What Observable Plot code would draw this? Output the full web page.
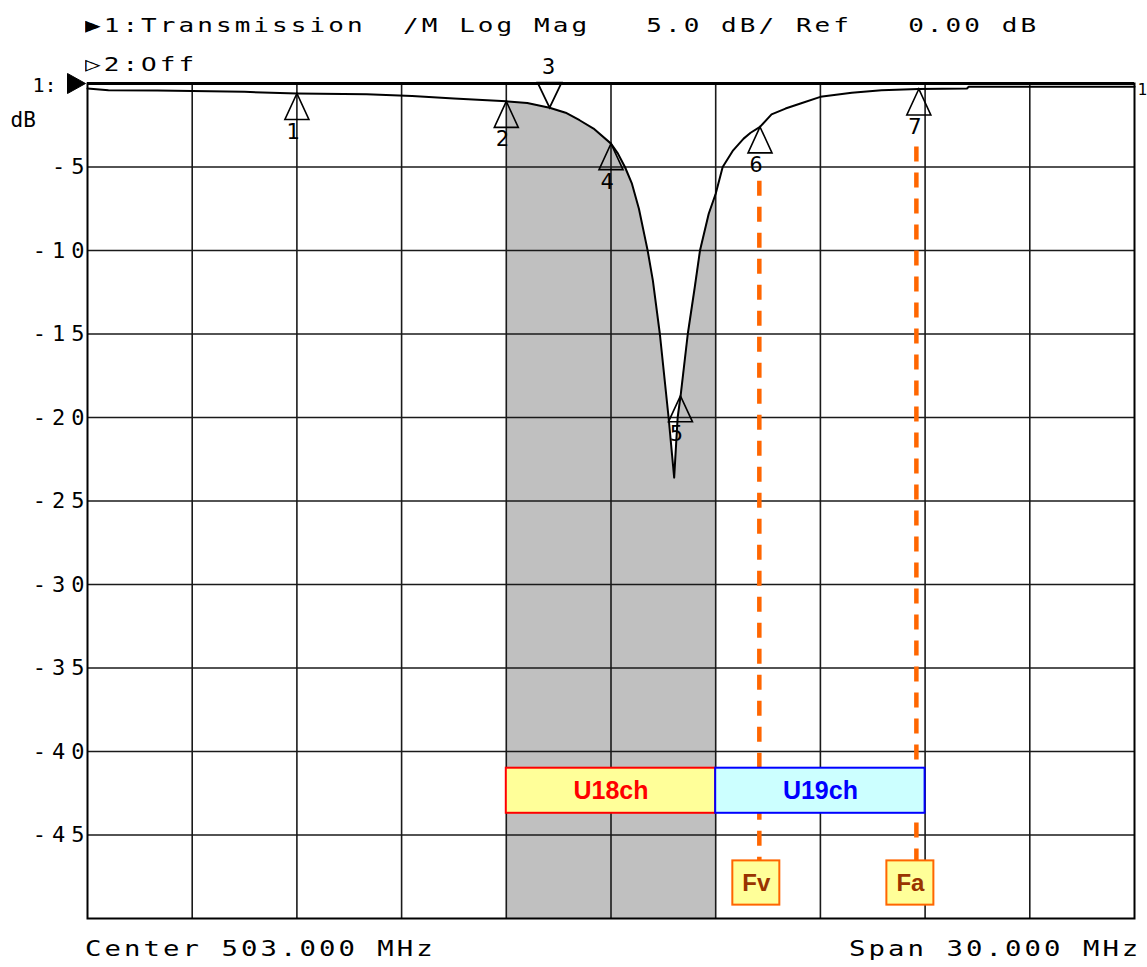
<!DOCTYPE html>
<html>
<head>
<meta charset="utf-8">
<script src="https://cdn.jsdelivr.net/npm/d3@7"></script>
<script src="https://cdn.jsdelivr.net/npm/@observablehq/plot@0.6"></script>
<style>
  body { margin: 0; background: #fff; }
  #wrap { position: relative; width: 1147px; height: 967px; overflow: hidden; background: #fff; }
  .hp { position: absolute; font-family: "DejaVu Sans Mono", monospace; white-space: pre; color: #000; transform-origin: 0 0; }
  .hdr { font-size: 20px; line-height: 20px; letter-spacing: 2.35px; transform: scaleX(1.3); }
  .ftr { font-size: 21px; line-height: 21px; letter-spacing: 2.35px; transform: scaleX(1.3); }
  .vna g[aria-label="y-axis tick label"] text { letter-spacing: 6px; }
</style>
</head>
<body>
<div id="wrap">
  <div id="chart"></div>
  <div class="hp hdr" style="left:85px; top:15px;">▶1:Transmission  /M Log Mag   5.0 dB/ Ref   0.00 dB</div>
  <div class="hp hdr" style="left:85px; top:54px;">▷2:Off</div>
  <div class="hp ftr" style="left:85px; top:939px;">Center 503.000 MHz</div>
  <div class="hp ftr" style="left:849px; top:939px;">Span 30.000 MHz</div>
</div>
<script>
// ---- Data ----
const xDomainMHz = [488, 518];          // Center 503 MHz, span 30 MHz
const yDomainDb = [-50, 0];             // Ref 0 dB, 5 dB/div
const xGridMHz = [491, 494, 497, 500, 503, 506, 509, 512, 515];
const yGridDb = [-5, -10, -15, -20, -25, -30, -35, -40, -45];
const yTickLabels = [-5, -10, -15, -20, -25, -30, -35, -40, -45];
const refLevelDb = 0;

// Transmission trace (frequency MHz, dB)
const freqMHz = [488.0, 488.6, 490.0, 492.5, 494.0, 496.0, 497.3, 498.5, 500.0, 500.6,
  501.24, 501.7, 502.1, 502.5, 503.0, 503.2, 503.4, 503.6, 503.8, 504.0,
  504.05, 504.2, 504.4, 504.55, 504.65, 504.81, 504.91, 505.0, 505.2, 505.4,
  505.55, 505.8, 506.0, 506.2, 506.5, 506.8, 507.0, 507.27, 507.6, 508.0,
  508.43, 509.0, 509.9, 510.75, 511.8, 513.2, 513.25, 518.0];
const transmissionDb = [-0.30, -0.40, -0.42, -0.50, -0.60, -0.65, -0.75, -0.90, -1.07, -1.17,
  -1.45, -1.75, -2.2, -2.7, -3.6, -4.2, -5.0, -6.0, -7.5, -9.5,
  -10.0, -11.8, -15.0, -18.0, -20.0, -23.6, -20.0, -18.6, -15.0, -12.2,
  -10.0, -7.8, -6.6, -5.0, -4.0, -3.3, -2.95, -2.6, -1.85, -1.5,
  -1.2, -0.8, -0.55, -0.4, -0.33, -0.3, -0.2, -0.2];

// Markers
const markerIds = ["1", "2", "3", "4", "5", "6", "7"];
const markerFreqMHz = [494.0, 500.0, 501.24, 503.0, 504.99, 507.27, 511.82];
const markerDb = [-0.6, -1.07, -1.45, -3.6, -18.7, -2.6, -0.33];
const markerPointsDown = [false, false, true, false, false, false, false];

// Shaded band (U18ch)
const shadeStartMHz = 500;
const shadeEndMHz = 506;

// TV channels
const channelNames = ["U18ch", "U19ch"];
const channelStartMHz = [500, 506];
const channelEndMHz = [506, 512];
const channelTopDb = -41.0;
const channelBottomDb = -43.7;

// Carriers of U19ch
const carrierNames = ["Fv", "Fa"];
const carrierFreqMHz = [507.25, 511.75];
const carrierLineTopDb = [-5.85, -3.8];
const carrierBoxTopDb = -46.55;
const carrierBoxBottomDb = -49.2;

// ---- Tables built from the arrays ----
const trace = freqMHz.map((f, i) => ({f, db: transmissionDb[i]}));
const shade = trace.filter(d => d.f >= shadeStartMHz && d.f <= shadeEndMHz);
const markers = markerIds.map((id, i) => ({id, f: markerFreqMHz[i], db: markerDb[i], down: markerPointsDown[i]}));
const channels = channelNames.map((name, i) => ({name, x1: channelStartMHz[i], x2: channelEndMHz[i]}));
const carriers = carrierNames.map((name, i) => ({name, f: carrierFreqMHz[i], top: carrierLineTopDb[i]}));

// ---- Styles ----
const channelStyle = {
  U18ch: {fill: "#ffff99", stroke: "#ff0000", text: "#ff0000"},
  U19ch: {fill: "#ccffff", stroke: "#0000ff", text: "#0000ff"}
};
const carrierBoxDx = {Fv: -3, Fa: -6};
const mono = "DejaVu Sans Mono";

const triUp = {draw(c) { c.moveTo(0, 0); c.lineTo(-12, 26); c.lineTo(12, 26); c.closePath(); }};
const triDown = {draw(c) { c.moveTo(0, 0); c.lineTo(-12, -25); c.lineTo(12, -25); c.closePath(); c.moveTo(-13, -25); c.lineTo(13, -25); }};
const refPointer = {draw(c) { c.moveTo(-2, 0); c.lineTo(-20, -10); c.lineTo(-20, 10); c.closePath(); }};

const marks = [
  Plot.areaY(shade, {x: "f", y1: yDomainDb[0], y2: "db", fill: "#c0c0c0", curve: "linear"}),
  Plot.ruleX(xGridMHz, {stroke: "#1a1a1a", strokeWidth: 1.6}),
  Plot.ruleY(yGridDb, {stroke: "#1a1a1a", strokeWidth: 1.6}),
  Plot.ruleY([refLevelDb], {stroke: "#000", strokeWidth: 3}),
  Plot.frame({stroke: "#000", strokeWidth: 2}),
  Plot.axisY({ticks: yTickLabels, tickFormat: d => String(d), tickSize: 0, tickPadding: 0, dx: 3,
    fontSize: 22, fontFamily: mono}),
  Plot.ruleX(carriers, {x: "f", y1: "top", y2: carrierBoxTopDb, stroke: "#ff6600", strokeWidth: 4.5, strokeDasharray: "15,11"})
];

for (const ch of channels) {
  const s = channelStyle[ch.name];
  marks.push(
    Plot.rect([ch], {x1: "x1", x2: "x2", y1: channelTopDb, y2: channelBottomDb, fill: s.fill, stroke: s.stroke, strokeWidth: 2}),
    Plot.text([ch], {x: d => (d.x1 + d.x2) / 2, y: (channelTopDb + channelBottomDb) / 2, text: "name", fill: s.text,
      fontSize: 25, fontWeight: "bold", fontFamily: "Liberation Sans, Arial, sans-serif"})
  );
}
for (const c of carriers) {
  marks.push(
    Plot.rect([c], {x1: "f", x2: "f", y1: carrierBoxTopDb, y2: carrierBoxBottomDb, insetLeft: -23.5, insetRight: -23.5,
      dx: carrierBoxDx[c.name], fill: "#ffff99", stroke: "#ff6600", strokeWidth: 2}),
    Plot.text([c], {x: "f", y: (carrierBoxTopDb + carrierBoxBottomDb) / 2, text: "name", dx: carrierBoxDx[c.name],
      fill: "#993300", fontSize: 24, fontWeight: "bold", fontFamily: "Liberation Sans, Arial, sans-serif"})
  );
}

marks.push(
  Plot.line(trace, {x: "f", y: "db", stroke: "#000", strokeWidth: 2}),
  Plot.dot(markers.filter(d => !d.down), {x: "f", y: "db", r: 5, symbol: triUp, fill: "none", stroke: "#000", strokeWidth: 1.6}),
  Plot.dot(markers.filter(d => d.down), {x: "f", y: "db", r: 5, symbol: triDown, fill: "none", stroke: "#000", strokeWidth: 1.8}),
  Plot.text(markers.filter(d => !d.down), {x: "f", y: "db", text: "id", dx: -4, dy: 38, fontSize: 22, fontFamily: mono}),
  Plot.text(markers.filter(d => d.down), {x: "f", y: "db", text: "id", dx: -1, dy: -41, fontSize: 22, fontFamily: mono}),
  Plot.dot([refLevelDb], {x: () => xDomainMHz[0], y: d => d, r: 5, symbol: refPointer, fill: "#000", stroke: "#000", strokeWidth: 1}),
  Plot.text([refLevelDb], {x: () => xDomainMHz[0], y: d => d, text: () => "1:", textAnchor: "end", dx: -31, dy: 2, fontSize: 20, fontFamily: mono}),
  Plot.text([refLevelDb], {x: () => xDomainMHz[0], y: d => d, text: () => "dB", textAnchor: "start", dx: -77, dy: 37, fontSize: 21, fontFamily: mono}),
  Plot.text([refLevelDb], {x: () => xDomainMHz[1], y: d => d, text: () => "1", textAnchor: "start", dx: 3, dy: 6, fontSize: 16, fontFamily: mono})
);

const chart = Plot.plot({
  width: 1147,
  height: 967,
  marginLeft: 87,
  marginRight: 13,
  marginTop: 83,
  marginBottom: 49,
  className: "vna",
  style: {background: "white", color: "black", fontFamily: mono, overflow: "visible"},
  x: {domain: xDomainMHz, axis: null},
  y: {domain: yDomainDb},
  marks
});
document.getElementById("chart").appendChild(chart);
</script>
</body>
</html>
